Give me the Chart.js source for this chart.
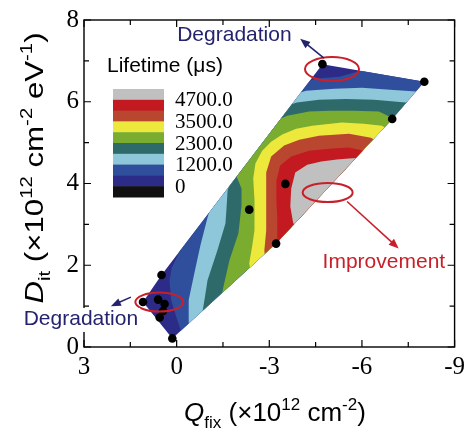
<!DOCTYPE html>
<html>
<head>
<meta charset="utf-8">
<script src="https://cdn.jsdelivr.net/npm/chart.js@4.4.0/dist/chart.umd.min.js"></script>
<style>
  html, body { margin: 0; padding: 0; background: #fff; }
</style>
</head>
<body>
<canvas id="chart" width="470" height="429"></canvas>
<script>
// measured samples (black dots)
var qfix = [-4.72, -8.02, -6.98, -3.52, -2.35, -3.22, 0.49, 1.09, 0.60, 0.39, 0.44, 0.55, 0.14];
var dit  = [ 6.92,  6.49,  5.58,  3.99,  3.36,  2.53, 1.76, 1.10, 1.16, 1.05, 0.88, 0.72, 0.21];

// contour levels (lifetime, us) and the colour of each band above a level
var levels = [0, 600, 1200, 1750, 2300, 2900, 3500, 4100, 4700];
var bandColors = ['#111111', '#2c2b88', '#2f4f9c', '#8ec6da', '#2f6a6a', '#7aac2f', '#ece83c', '#b9462f', '#c21a20', '#c0c0c0'];
var legendLabels = [4700, 3500, 2300, 1200, 0];

// outlines of the region where lifetime >= level [Qfix, Dit]
var iso600 = [[-0.23, 2.71], [-0.03, 2.24], [0.16, 1.93], [0.23, 1.63], [0.18, 1.15], [0.03, 0.78], [-0.13, 0.41], [-0.32, 0.12],
  [-12, -1], [-12, 9], [-6.48, 6.90], [-5.97, 6.76], [-5.26, 6.61], [-4.48, 6.56], [-3.97, 6.41]];
var iso1200 = [[-1.13, 3.49], [-1.00, 3.17], [-0.77, 2.49], [-0.58, 1.83], [-0.39, 1.15], [-0.39, 0.61], [-0.42, 0.32],
  [-12, -1], [-12, 9], [-8.00, 6.24], [-7.03, 6.29], [-6.00, 6.34], [-5.10, 6.32], [-4.19, 6.27], [-3.90, 6.20]];
var iso1750 = [[-1.77, 4.12], [-1.65, 3.83], [-1.61, 3.34], [-1.58, 3.02], [-1.32, 2.37], [-1.00, 1.63], [-0.90, 1.15], [-0.84, 0.88], [-0.74, 0.66],
  [-12, -1], [-12, 9], [-7.74, 5.93], [-7.42, 5.98], [-6.39, 6.05], [-5.48, 6.07], [-4.61, 6.05], [-3.90, 5.98], [-3.55, 5.90]];
var iso2300 = [[-1.81, 4.37], [-1.94, 4.17], [-2.10, 3.88], [-2.10, 3.46], [-2.00, 2.78], [-1.71, 2.12], [-1.55, 1.59], [-1.42, 1.15],
  [-12, -1], [-12, 9], [-7.19, 5.49], [-6.97, 5.61], [-6.55, 5.76], [-5.74, 5.78], [-4.94, 5.78], [-4.29, 5.76], [-3.58, 5.66], [-3.13, 5.51]];
var iso2900 = [[-2.42, 1.73], [-2.35, 2.05], [-2.45, 2.49], [-2.52, 2.85], [-2.52, 3.59], [-2.48, 4.12], [-2.55, 4.49], [-2.77, 4.80], [-3.06, 5.02],
  [-3.42, 5.20], [-3.87, 5.34], [-4.39, 5.41], [-5.35, 5.49], [-6.06, 5.46], [-6.65, 5.41], [-6.97, 5.27], [-12, -1]];
var iso3500 = [[-2.87, 2.07], [-2.84, 2.37], [-2.90, 2.85], [-2.90, 3.59], [-2.90, 4.27], [-3.06, 4.66], [-3.48, 4.93], [-3.97, 5.07],
  [-4.61, 5.17], [-5.58, 5.22], [-6.29, 5.12], [-6.61, 4.98], [-12, -1]];
var iso4100 = [[-3.32, 2.32], [-3.26, 2.61], [-3.26, 3.10], [-3.23, 3.59], [-3.23, 4.07], [-3.35, 4.44], [-3.71, 4.66], [-4.29, 4.80],
  [-4.94, 4.85], [-5.58, 4.88], [-6.06, 4.80], [-6.35, 4.63], [-12, -1]];
var iso4700 = [[-3.90, 2.80], [-3.77, 3.05], [-3.68, 3.44], [-3.71, 3.88], [-3.84, 4.27], [-4.23, 4.46], [-4.68, 4.54], [-5.19, 4.59],
  [-5.58, 4.61], [-5.97, 4.63], [-12, -1]];
var isolines = [iso600, iso1200, iso1750, iso2300, iso2900, iso3500, iso4100, iso4700];

var SANS = '"Liberation Sans", Arial, sans-serif';
var SERIF = '"Liberation Serif", "Times New Roman", serif';
var NAVY = '#25236e';
var RED = '#c8202a';

function convexHull(pts) {
  var p = pts.slice().sort(function(a, b) { return a[0] - b[0] || a[1] - b[1]; });
  function cross(o, a, b) { return (a[0] - o[0]) * (b[1] - o[1]) - (a[1] - o[1]) * (b[0] - o[0]); }
  var lower = [], upper = [];
  p.forEach(function(pt) {
    while (lower.length >= 2 && cross(lower[lower.length - 2], lower[lower.length - 1], pt) <= 0) lower.pop();
    lower.push(pt);
  });
  p.slice().reverse().forEach(function(pt) {
    while (upper.length >= 2 && cross(upper[upper.length - 2], upper[upper.length - 1], pt) <= 0) upper.pop();
    upper.push(pt);
  });
  lower.pop(); upper.pop();
  return lower.concat(upper);
}

// filled contour bands, clipped to the hull of the measured points
var contourPlugin = {
  id: 'contour',
  beforeDatasetsDraw: function(chart) {
    var ctx = chart.ctx, xs = chart.scales.x, ys = chart.scales.y;
    var pts = qfix.map(function(q, i) { return [xs.getPixelForValue(q), ys.getPixelForValue(dit[i])]; });
    var hull = convexHull(pts);
    ctx.save();
    ctx.beginPath();
    hull.forEach(function(p, i) { if (i === 0) ctx.moveTo(p[0], p[1]); else ctx.lineTo(p[0], p[1]); });
    ctx.closePath();
    ctx.clip();
    ctx.fillStyle = bandColors[1];
    ctx.fillRect(0, 0, chart.width, chart.height);
    isolines.forEach(function(line, k) {
      ctx.beginPath();
      line.forEach(function(p, i) {
        var x = xs.getPixelForValue(p[0]), y = ys.getPixelForValue(p[1]);
        if (i === 0) ctx.moveTo(x, y); else ctx.lineTo(x, y);
      });
      ctx.closePath();
      ctx.fillStyle = bandColors[k + 2];
      ctx.fill();
    });
    ctx.restore();
  }
};

function arrow(ctx, x1, y1, x2, y2, color) {
  var a = Math.atan2(y2 - y1, x2 - x1), len = 10, w = 4;
  ctx.save();
  ctx.strokeStyle = color; ctx.fillStyle = color; ctx.lineWidth = 1.6;
  ctx.beginPath();
  ctx.moveTo(x1, y1);
  ctx.lineTo(x2 - Math.cos(a) * len * 0.8, y2 - Math.sin(a) * len * 0.8);
  ctx.stroke();
  ctx.beginPath();
  ctx.moveTo(x2, y2);
  ctx.lineTo(x2 - Math.cos(a) * len - Math.sin(a) * w, y2 - Math.sin(a) * len + Math.cos(a) * w);
  ctx.lineTo(x2 - Math.cos(a) * len + Math.sin(a) * w, y2 - Math.sin(a) * len - Math.cos(a) * w);
  ctx.closePath();
  ctx.fill();
  ctx.restore();
}

function richFont(p, size) {
  var s = (p.sup || p.sub) ? Math.round(size * 0.66) : size;
  return (p.italic ? 'italic ' : '') + s + 'px ' + SANS;
}

// text with sub/superscripts, centred on (x, y); stretch widens it along the baseline
function richText(ctx, parts, x, y, size, rotate, stretch) {
  var total = 0;
  parts.forEach(function(p) { ctx.font = richFont(p, size); total += ctx.measureText(p.t).width; });
  ctx.save();
  ctx.translate(x, y);
  if (rotate) ctx.rotate(-Math.PI / 2);
  ctx.scale(stretch || 1, 1);
  ctx.fillStyle = '#000';
  ctx.textAlign = 'left';
  ctx.textBaseline = 'alphabetic';
  var cx = -total / 2;
  parts.forEach(function(p) {
    ctx.font = richFont(p, size);
    var dy = p.sup ? -size * 0.42 : (p.sub ? size * 0.28 : 0);
    ctx.fillText(p.t, cx, dy);
    cx += ctx.measureText(p.t).width;
  });
  ctx.restore();
}

var decorPlugin = {
  id: 'decor',
  afterDraw: function(chart) {
    var ctx = chart.ctx, xs = chart.scales.x, ys = chart.scales.y, a = chart.chartArea;
    var X = function(v) { return xs.getPixelForValue(v); };
    var Y = function(v) { return ys.getPixelForValue(v); };

    // frame with inward ticks on all sides
    ctx.save();
    ctx.strokeStyle = '#000';
    ctx.lineWidth = 1.4;
    ctx.strokeRect(a.left, a.top, a.right - a.left, a.bottom - a.top);
    ctx.lineWidth = 1.2;
    function ticksFor(scale, horiz) {
      var vals = scale.ticks.map(function(t) { return t.value; });
      vals.forEach(function(v, i) {
        var list = [[v, 7]];
        if (i < vals.length - 1) list.push([(v + vals[i + 1]) / 2, 5]);
        list.forEach(function(tk) {
          var p = scale.getPixelForValue(tk[0]);
          ctx.beginPath();
          if (horiz) {
            ctx.moveTo(p, a.bottom); ctx.lineTo(p, a.bottom - tk[1]);
            ctx.moveTo(p, a.top); ctx.lineTo(p, a.top + tk[1]);
          } else {
            ctx.moveTo(a.left, p); ctx.lineTo(a.left + tk[1], p);
            ctx.moveTo(a.right, p); ctx.lineTo(a.right - tk[1], p);
          }
          ctx.stroke();
        });
      });
    }
    ticksFor(xs, true);
    ticksFor(ys, false);
    ctx.restore();

    // ellipses
    ctx.save();
    ctx.strokeStyle = RED;
    ctx.lineWidth = 2;
    [[-5.03, 6.80, 27, 12], [-4.89, 3.78, 25, 9.5], [0.56, 1.10, 24, 9.5]].forEach(function(e) {
      ctx.beginPath();
      ctx.ellipse(X(e[0]), Y(e[1]), e[2], e[3], 0, 0, Math.PI * 2);
      ctx.stroke();
    });
    ctx.restore();

    arrow(ctx, X(-4.77), Y(7.07), X(-4.0), Y(7.54), NAVY);
    arrow(ctx, X(-5.52), Y(3.56), X(-7.19), Y(2.41), RED);
    arrow(ctx, X(1.48), Y(1.22), X(2.13), Y(1.0), NAVY);

    // annotation text
    ctx.save();
    ctx.font = '21px ' + SANS;
    ctx.textAlign = 'center';
    ctx.textBaseline = 'alphabetic';
    var bx = X(3.10), by = Y(0.54);
    var bw = ctx.measureText('Degradation').width;
    ctx.fillStyle = '#fff';
    ctx.fillRect(bx - bw / 2 - 2, by - 17, bw + 4, 24);
    ctx.fillStyle = NAVY;
    ctx.fillText('Degradation', bx, by);
    ctx.fillText('Degradation', X(-1.87), Y(7.49));
    ctx.fillStyle = RED;
    ctx.fillText('Improvement', X(-6.71), Y(1.93));
    ctx.restore();

    // colour legend
    ctx.save();
    var lx = a.left + 29, ly = a.top + 69, bh = 10.8, bwid = 51;
    ctx.fillStyle = '#000';
    ctx.font = '21px ' + SANS;
    ctx.textAlign = 'left';
    ctx.textBaseline = 'alphabetic';
    ctx.fillText('Lifetime (\u03bcs)', a.left + 23, a.top + 52);
    for (var i = 0; i < bandColors.length; i++) {
      ctx.fillStyle = bandColors[bandColors.length - 1 - i];
      ctx.fillRect(lx, ly + i * bh, bwid, bh + 0.5);
    }
    ctx.fillStyle = '#000';
    ctx.font = '21px ' + SERIF;
    ctx.textBaseline = 'middle';
    legendLabels.forEach(function(v) {
      var j = levels.indexOf(v);
      var yy = ly + (levels.length - j) * bh + 1;
      ctx.fillText(v === 0 ? '0' : v.toFixed(1), lx + bwid + 11, yy);
    });
    ctx.restore();

    // axis titles
    richText(ctx, [{t: 'Q', italic: true}, {t: 'fix', sub: true}, {t: ' (\u00d710'}, {t: '12', sup: true},
      {t: ' cm'}, {t: '-2', sup: true}, {t: ')'}], 275, 421, 26, false, 1);
    richText(ctx, [{t: 'D', italic: true}, {t: 'it', sub: true}, {t: ' (\u00d710'}, {t: '12', sup: true},
      {t: ' cm'}, {t: '-2', sup: true}, {t: ' eV'}, {t: '-1', sup: true}, {t: ')'}], 43, 168, 26, true, 1.2);
  }
};

new Chart(document.getElementById('chart'), {
  type: 'scatter',
  data: {
    datasets: [{
      data: qfix.map(function(q, i) { return {x: q, y: dit[i]}; }),
      backgroundColor: '#000',
      borderWidth: 0,
      pointRadius: 4.3,
      pointHoverRadius: 4.3
    }]
  },
  options: {
    responsive: false,
    animation: false,
    layout: {padding: {left: 0, right: 14, top: 18, bottom: 0}},
    plugins: {legend: {display: false}, tooltip: {enabled: false}},
    scales: {
      x: {
        type: 'linear', min: -9, max: 3, reverse: true,
        ticks: {stepSize: 3, maxRotation: 0, padding: 5, color: '#000', font: {family: SERIF, size: 25}},
        grid: {display: false, drawTicks: false},
        border: {display: false},
        afterFit: function(scale) { scale.height = 82; }
      },
      y: {
        type: 'linear', min: 0, max: 8,
        ticks: {stepSize: 2, padding: 5, color: '#000', font: {family: SERIF, size: 25}},
        grid: {display: false, drawTicks: false},
        border: {display: false},
        afterFit: function(scale) { scale.width = 84; }
      }
    }
  },
  plugins: [contourPlugin, decorPlugin]
});
</script>
</body>
</html>
